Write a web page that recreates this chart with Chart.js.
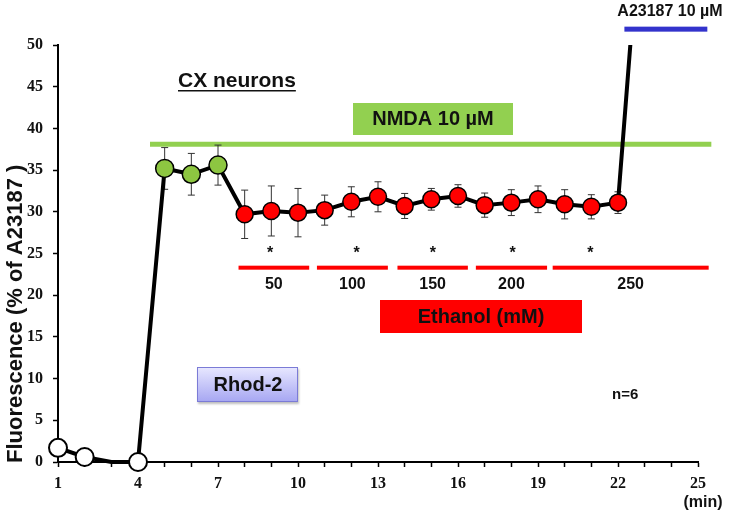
<!DOCTYPE html>
<html>
<head>
<meta charset="utf-8">
<script src="https://cdn.jsdelivr.net/npm/chart.js@4.4.0/dist/chart.umd.min.js"></script>
<style>
  html, body { margin: 0; padding: 0; background: #fff; }
  #wrap { width: 730px; height: 516px; }
</style>
</head>
<body>
<div id="wrap"><canvas id="chart"></canvas></div>
<script>
// time (min), mean fluorescence (% of A23187) and SD
const minutes = [1, 2, 3, 4, 5, 6, 7, 8, 9, 10, 11, 12, 13, 14, 15, 16, 17, 18, 19, 20, 21, 22, 23];
const fluorescence = [1.7, 0.6, 0, 0, 35.2, 34.5, 35.6, 29.7, 30.1, 29.9, 30.2, 31.2, 31.8, 30.7, 31.5, 31.9,
  30.8, 31.1, 31.5, 30.9, 30.6, 31.1, 72];
const errorSD = [0, 0, 0, 0, 2.5, 2.5, 2.4, 2.9, 3.0, 2.9, 1.8, 1.8, 1.8, 1.5, 1.3, 1.35, 1.45, 1.55, 1.6, 1.75,
  1.45, 1.3, 0];
const phase = ['base', 'base', 'hidden', 'base', 'nmda', 'nmda', 'nmda', 'eth', 'eth', 'eth', 'eth', 'eth', 'eth',
  'eth', 'eth', 'eth', 'eth', 'eth', 'eth', 'eth', 'eth', 'eth', 'hidden'];

// ethanol application periods (min)
const ethanolDoses = ['50', '100', '150', '200', '250'];
const ethanolStart = [7.77, 10.71, 13.73, 16.67, 19.55];
const ethanolEnd = [10.42, 13.37, 16.37, 19.34, 25.4];
const asteriskAt = [8.95, 12.2, 15.06, 18.05, 20.96];

// NMDA and A23187 application bars
const nmdaPeriod = [4.45, 25.5];
const nmdaLevel = 38.1;
const a23187Period = [22.24, 25.35];
const a23187Level = 51.9;

const yTicks = [0, 5, 10, 15, 20, 25, 30, 35, 40, 45, 50];
const xTickLabels = [1, 4, 7, 10, 13, 16, 19, 22, 25];

const fillFor = { base: '#ffffff', nmda: '#8DC641', eth: '#FF0000', hidden: 'rgba(0,0,0,0)' };

const SANS = '"Liberation Sans", Arial, sans-serif';
const SERIF = '"Liberation Serif", "Times New Roman", serif';

const overlay = {
  id: 'overlay',
  beforeDatasetsDraw(chart) {
    const { ctx, scales: { x, y } } = chart;
    ctx.save();
    // NMDA bar
    ctx.fillStyle = '#92D050';
    ctx.fillRect(x.getPixelForValue(nmdaPeriod[0]), y.getPixelForValue(nmdaLevel) - 2.5,
      x.getPixelForValue(nmdaPeriod[1]) - x.getPixelForValue(nmdaPeriod[0]), 5);

    // ethanol bars, doses and asterisks
    const barY = y.getPixelForValue(23.3);
    ctx.textAlign = 'center';
    ctx.textBaseline = 'middle';
    ethanolStart.forEach((s, i) => {
      const x0 = x.getPixelForValue(s), x1 = x.getPixelForValue(ethanolEnd[i]);
      ctx.fillStyle = '#FF0000';
      ctx.fillRect(x0, barY - 2, x1 - x0, 4);
      ctx.fillStyle = '#111';
      ctx.font = 'bold 16px ' + SANS;
      ctx.fillText(ethanolDoses[i], (x0 + x1) / 2, y.getPixelForValue(21.3));
      ctx.fillText('*', x.getPixelForValue(asteriskAt[i]), y.getPixelForValue(25.0));
    });

    // error bars
    ctx.strokeStyle = '#333';
    ctx.lineWidth = 1;
    minutes.forEach((m, i) => {
      if (!errorSD[i]) return;
      const px = x.getPixelForValue(m);
      const top = y.getPixelForValue(fluorescence[i] + errorSD[i]);
      const bot = y.getPixelForValue(fluorescence[i] - errorSD[i]);
      ctx.beginPath();
      ctx.moveTo(px, top); ctx.lineTo(px, bot);
      ctx.moveTo(px - 3.5, top); ctx.lineTo(px + 3.5, top);
      ctx.moveTo(px - 3.5, bot); ctx.lineTo(px + 3.5, bot);
      ctx.stroke();
    });
    ctx.restore();
  },
  afterDraw(chart) {
    const { ctx, scales: { x, y } } = chart;
    ctx.save();
    ctx.textBaseline = 'middle';

    // A23187 bar above the plot
    ctx.fillStyle = '#3333CC';
    const ax0 = x.getPixelForValue(a23187Period[0]), ax1 = x.getPixelForValue(a23187Period[1]);
    ctx.fillRect(ax0, y.getPixelForValue(a23187Level) - 2.5, ax1 - ax0, 5);
    ctx.fillStyle = '#111';
    ctx.textAlign = 'center';
    ctx.font = 'bold 16px ' + SANS;
    ctx.fillText('A23187 10 \u00b5M', 670, 12);

    // CX neurons (underlined)
    ctx.font = 'bold 21px ' + SANS;
    ctx.textAlign = 'left';
    ctx.fillText('CX neurons', 178, 81);
    const w = ctx.measureText('CX neurons').width;
    ctx.fillRect(178, 90, w, 1.5);

    // NMDA box
    ctx.font = 'bold 20px ' + SANS;
    ctx.fillStyle = '#92D050';
    ctx.fillRect(353, 103, 160, 32);
    ctx.fillStyle = '#111';
    ctx.textAlign = 'center';
    ctx.fillText('NMDA 10 \u00b5M', 433, 119.5);

    // Ethanol box
    ctx.fillStyle = '#FF0000';
    ctx.fillRect(380, 300, 202, 33);
    ctx.fillStyle = '#111';
    ctx.fillText('Ethanol (mM)', 481, 317);

    // Rhod-2 box
    ctx.shadowColor = 'rgba(0,0,0,0.25)';
    ctx.shadowOffsetX = 1; ctx.shadowOffsetY = 2; ctx.shadowBlur = 2;
    const g = ctx.createLinearGradient(0, 367, 0, 402);
    g.addColorStop(0, '#E8E8FF');
    g.addColorStop(1, '#A6A6F2');
    ctx.fillStyle = g;
    ctx.fillRect(197, 367, 101, 35);
    ctx.shadowColor = 'transparent';
    ctx.strokeStyle = '#7B7BD6';
    ctx.lineWidth = 1;
    ctx.strokeRect(197.5, 367.5, 100, 34);
    ctx.fillStyle = '#111';
    ctx.fillText('Rhod-2', 248, 385);

    // n=6
    ctx.font = 'bold 15px ' + SANS;
    ctx.textAlign = 'left';
    ctx.fillText('n=6', 612, 395);

    // (min)
    ctx.font = 'bold 16px ' + SANS;
    ctx.textAlign = 'center';
    ctx.fillText('(min)', 703, 503);

    // y axis title
    ctx.translate(16, 463);
    ctx.rotate(-Math.PI / 2);
    ctx.textAlign = 'left';
    ctx.font = 'bold 22px ' + SANS;
    ctx.fillText('Fluorescence (% of A23187 )', 0, 0);
    ctx.restore();
  }
};

new Chart(document.getElementById('chart'), {
  type: 'line',
  data: {
    datasets: [{
      data: minutes.map((m, i) => ({ x: m, y: fluorescence[i] })),
      borderColor: '#000',
      borderWidth: 4,
      tension: 0,
      clip: { left: 12, right: 12, bottom: 12, top: 0 },
      pointRadius: phase.map(p => p === 'hidden' ? 0 : (p === 'eth' ? 8.5 : 9)),
      pointBackgroundColor: phase.map(p => fillFor[p]),
      pointBorderColor: '#000',
      pointBorderWidth: phase.map(p => p === 'base' ? 2 : 1.5)
    }]
  },
  options: {
    responsive: true,
    maintainAspectRatio: false,
    animation: false,
    layout: { padding: { left: 0, right: 32, top: 45, bottom: 0 } },
    plugins: { legend: { display: false }, tooltip: { enabled: false } },
    scales: {
      x: {
        type: 'linear',
        min: 1,
        max: 25,
        afterFit: s => { s.height = 54; },
        border: { color: '#000', width: 2 },
        grid: { drawOnChartArea: false, tickLength: 5, tickColor: '#000', tickWidth: 1.5 },
        ticks: {
          stepSize: 1,
          autoSkip: false,
          maxRotation: 0,
          padding: 7,
          color: '#111',
          font: { family: SERIF, size: 16, weight: 'bold' },
          callback: v => xTickLabels.includes(v) ? String(v) : ''
        }
      },
      y: {
        min: 0,
        max: 50,
        afterFit: s => { s.width = 58; },
        border: { color: '#000', width: 2 },
        grid: { drawOnChartArea: false, tickLength: 5, tickColor: '#000', tickWidth: 1.5 },
        ticks: {
          stepSize: 5,
          padding: 10,
          color: '#111',
          font: { family: SERIF, size: 16, weight: 'bold' },
          callback: v => yTicks.includes(v) ? String(v) : ''
        }
      }
    }
  },
  plugins: [overlay]
});
</script>
</body>
</html>
